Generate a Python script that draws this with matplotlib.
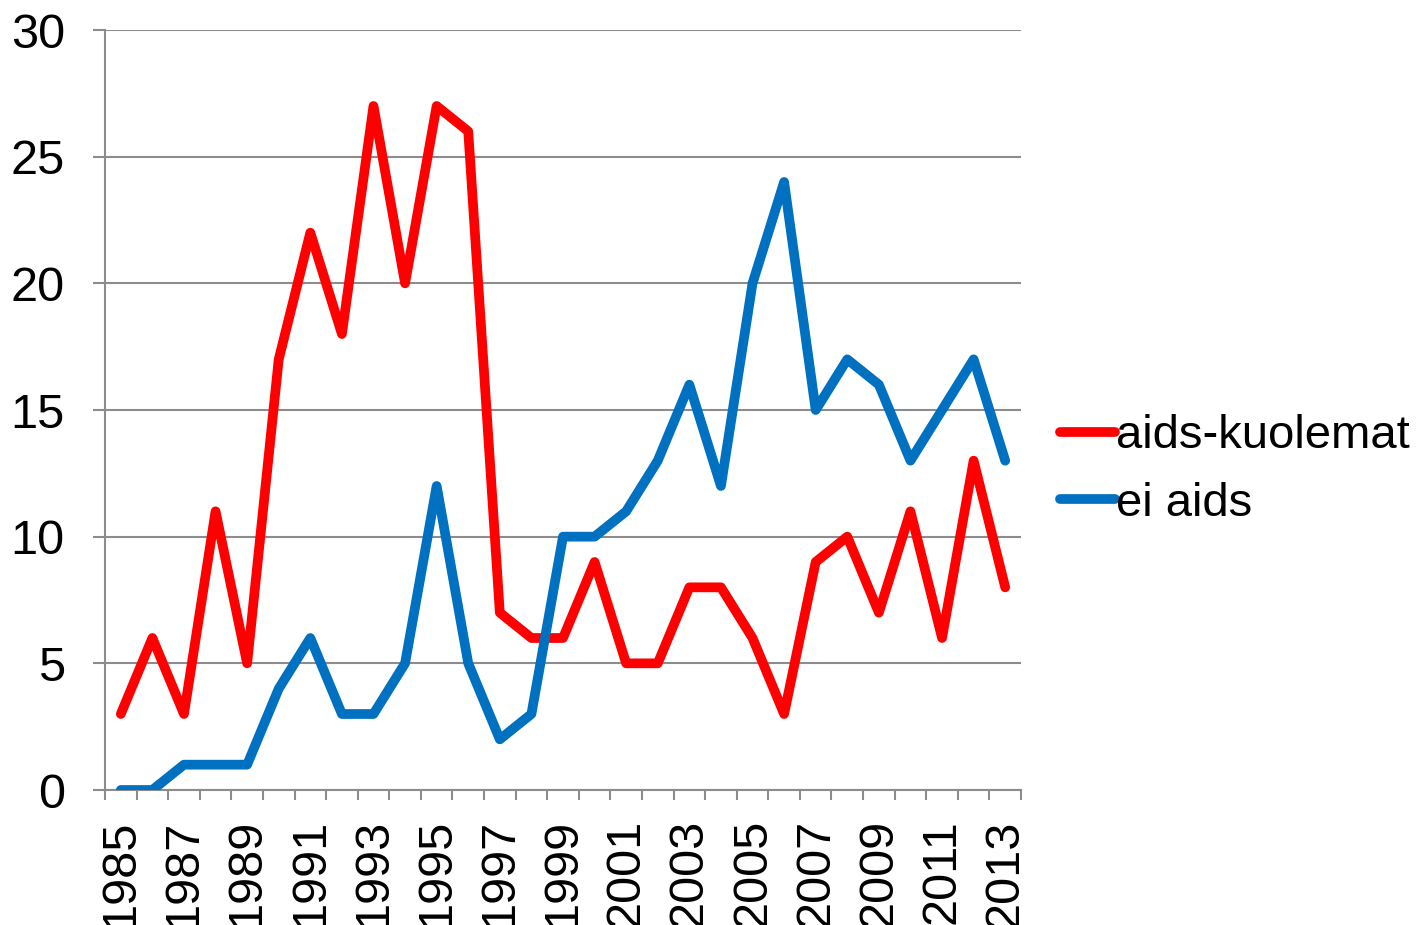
import numpy as np
import matplotlib
matplotlib.use('Agg')
import matplotlib.pyplot as plt
from matplotlib.ticker import FixedLocator

plt.rcParams['font.family'] = ['Liberation Sans', 'DejaVu Sans']

years = list(range(1985, 2014))
aids_deaths = [3, 6, 3, 11, 5, 17, 22, 18, 27, 20, 27, 26, 7, 6, 6, 9, 5, 5, 8, 8, 6, 3, 9, 10, 7, 11, 6, 13, 8]
no_aids = [0, 0, 1, 1, 1, 4, 6, 3, 3, 5, 12, 5, 2, 3, 10, 10, 11, 13, 16, 12, 20, 24, 15, 17, 16, 13, 15, 17, 13]
series_labels = ['aids-kuolemat', 'ei aids']
y_ticks = [0, 5, 10, 15, 20, 25, 30]

fig = plt.figure(figsize=(14.23, 9.25), dpi=100)
ax = fig.add_axes([105/1423, 1 - 790/925, (1021 - 105)/1423, (790 - 30)/925])

x = np.arange(len(years))
ax.plot(x, aids_deaths, color='#FF0000', lw=7, solid_joinstyle='round', solid_capstyle='round',
        label=series_labels[0], zorder=3)
ax.plot(x, no_aids, color='#0070C0', lw=7, solid_joinstyle='round', solid_capstyle='round',
        label=series_labels[1], zorder=3)

ax.set_xlim(-0.5, len(years) - 0.5)
ax.set_ylim(0, 30)
ax.set_yticks(y_ticks)
ax.yaxis.grid(True, color='#8c8c8c', lw=1.5)
ax.set_axisbelow(True)

# labels on odd years, tick marks at category boundaries
ax.set_xticks(x[::2])
ax.set_xticklabels([str(y) for y in years[::2]], rotation=90)
ax.xaxis.set_minor_locator(FixedLocator(np.arange(-0.5, len(years), 1)))
ax.tick_params(axis='x', which='major', length=0, pad=21, labelsize=35)
ax.tick_params(axis='x', which='minor', length=7, width=1.5, color='#8c8c8c')
ax.tick_params(axis='y', length=9, width=1.5, color='#8c8c8c', labelsize=35, pad=20)

for s in ['top', 'right']:
    ax.spines[s].set_visible(False)
for s in ['left', 'bottom']:
    ax.spines[s].set_color('#8c8c8c')
    ax.spines[s].set_linewidth(1.5)

leg = ax.legend(loc='center left', bbox_to_anchor=(1.043, 0.421), frameon=False,
                fontsize=34, handlelength=1.15, handletextpad=0.03, labelspacing=0.5,
                borderaxespad=0, borderpad=0)
for h in leg.get_lines():
    h.set_solid_capstyle('round')

fig.savefig('out.png', dpi=100)
